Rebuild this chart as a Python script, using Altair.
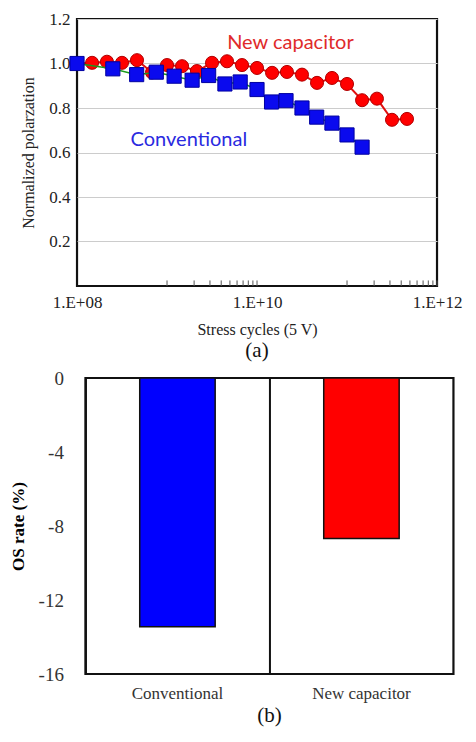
import altair as alt
import pandas as pd

# ---- (a) data ----
new_cycles = [1.0e8, 1.47e8, 2.15e8, 3.16e8, 4.64e8, 6.81e8, 1.0e9, 1.47e9, 2.15e9,
              3.16e9, 4.64e9, 6.81e9, 1.0e10, 1.47e10, 2.15e10, 3.16e10, 4.64e10,
              6.81e10, 1.0e11, 1.47e11, 2.15e11, 3.16e11, 4.64e11]
new_pol = [1.0, 1.003, 1.008, 1.003, 1.015, 0.96, 0.993, 0.988, 0.966, 1.003, 1.01,
           0.993, 0.98, 0.958, 0.962, 0.95, 0.913, 0.935, 0.908, 0.835, 0.842, 0.747, 0.751]
conv_cycles = [1.0e8, 2.5e8, 4.6e8, 7.6e8, 1.2e9, 1.9e9, 2.9e9, 4.4e9, 6.5e9, 1.0e10,
               1.45e10, 2.1e10, 3.16e10, 4.6e10, 6.8e10, 1.0e11, 1.47e11]
conv_pol = [1.0, 0.976, 0.95, 0.961, 0.943, 0.925, 0.946, 0.908, 0.917, 0.883, 0.827,
            0.833, 0.8, 0.759, 0.732, 0.679, 0.624]
x_label_values = [1e8, 1e10, 1e12]
y_label_values = [0.2, 0.4, 0.6, 0.8, 1.0, 1.2]
minor_ticks = [1e9, 2e9, 3e9, 4e9, 5e9, 6e9, 7e9, 8e9, 9e9, 1e10,
               1e11, 2e11, 3e11, 4e11, 5e11, 6e11, 7e11, 8e11, 9e11, 1e12]

# ---- (b) data ----
bar_categories = ["Conventional", "New capacitor"]
bar_values = [-13.45, -8.67]
bar_colors = ["#0000ff", "#ff0000"]
b_y_values = [0, -4, -8, -12, -16]

SERIF = "Liberation Serif"

df_new = pd.DataFrame({"cycles": new_cycles, "pol": new_pol})
df_conv = pd.DataFrame({"cycles": conv_cycles, "pol": conv_pol})
df_minor = pd.DataFrame({"cycles": minor_ticks})

xscale = alt.Scale(type="log", domain=[1e8, 1e12], nice=False)
yscale = alt.Scale(domain=[0, 1.2], nice=False)

xenc = alt.X("cycles:Q", scale=xscale, axis=alt.Axis(
    values=x_label_values, ticks=False, domain=False, grid=False,
    labelExpr="'1.E+' + format(round(log(datum.value)/LN10), '02d')",
    labelFont=SERIF, labelFontSize=17, labelColor="#222", labelPadding=8,
    labelFlush=False,
    title="Stress cycles (5 V)", titleFont=SERIF, titleFontSize=16,
    titleFontWeight="normal", titleColor="#222", titlePadding=11))
yenc = alt.Y("pol:Q", scale=yscale, axis=alt.Axis(
    values=y_label_values, ticks=False, domain=False, grid=True,
    gridColor="#cccccc", gridWidth=1.2, format=".1f",
    labelFont=SERIF, labelFontSize=17, labelColor="#222", labelPadding=7,
    title="Normalized polarzation", titleFont=SERIF, titleFontSize=16,
    titleFontWeight="normal", titleColor="#222", titlePadding=12))

base_grid = alt.Chart(df_new).mark_point(opacity=0).encode(x=xenc, y=yenc)

minor = alt.Chart(df_minor).mark_rule(color="#555", strokeWidth=1).encode(
    x=alt.X("cycles:Q", scale=xscale),
    y=alt.datum(0), y2=alt.datum(0.025))

red_line = alt.Chart(df_new).mark_line(color="#e01010", strokeWidth=2).encode(
    x=alt.X("cycles:Q", scale=xscale), y=alt.Y("pol:Q", scale=yscale))
red_pts = alt.Chart(df_new).mark_circle(size=170, color="#ff0000", opacity=1,
                                        stroke="#b00000", strokeWidth=1).encode(
    x=alt.X("cycles:Q", scale=xscale), y=alt.Y("pol:Q", scale=yscale))
green_line = alt.Chart(df_conv).mark_line(color="#1a9a1a", strokeWidth=1.5).encode(
    x=alt.X("cycles:Q", scale=xscale), y=alt.Y("pol:Q", scale=yscale))
blue_pts = alt.Chart(df_conv).mark_square(size=200, color="#0a0aee", opacity=1,
                                          stroke="#0000a0", strokeWidth=1).encode(
    x=alt.X("cycles:Q", scale=xscale), y=alt.Y("pol:Q", scale=yscale))

lbl_new = alt.Chart(pd.DataFrame({"t": ["New capacitor"]})).mark_text(
    font="Lato", fontSize=20, color="#e02a2a", align="center", baseline="middle").encode(
    x=alt.datum(2.35e10, scale=xscale), y=alt.datum(1.093, scale=yscale), text="t:N")
lbl_conv = alt.Chart(pd.DataFrame({"t": ["Conventional"]})).mark_text(
    font="Lato", fontSize=20, color="#2a2ae0", align="center", baseline="middle").encode(
    x=alt.datum(1.75e9, scale=xscale), y=alt.datum(0.655, scale=yscale), text="t:N")

top = alt.layer(base_grid, minor, red_line, red_pts, green_line, blue_pts,
                lbl_new, lbl_conv).properties(
    width=360, height=267,
    title=alt.TitleParams("(a)", orient="bottom", font=SERIF, fontSize=21,
                          fontWeight="normal", color="#111", offset=3))

# ---- (b) ----
df_bar = pd.DataFrame({"cat": bar_categories, "val": bar_values, "col": bar_colors})
bottom = alt.Chart(df_bar).mark_bar(width=alt.RelativeBandSize(0.41),
                                    stroke="#111", strokeWidth=1.5).encode(
    x=alt.X("cat:N", sort=bar_categories,
            scale=alt.Scale(paddingInner=0, paddingOuter=0),
            axis=alt.Axis(title=None, ticks=False, domain=False, grid=True,
                          bandPosition=0, gridColor="#111", gridWidth=2,
                          labelAngle=0, labelFont=SERIF, labelFontSize=17,
                          labelColor="#333", labelPadding=11)),
    y=alt.Y("val:Q", scale=alt.Scale(domain=[-16, 0], nice=False),
            axis=alt.Axis(values=b_y_values, ticks=False, domain=False, grid=False,
                          labelExpr="datum.value == 0 ? '0' : '-' + abs(datum.value)",
                          labelFont=SERIF, labelFontSize=19, labelColor="#333",
                          labelPadding=22,
                          title="OS rate (%)", titleFont=SERIF, titleFontSize=17,
                          titleFontWeight="bold", titleColor="#000", titlePadding=11)),
    color=alt.Color("col:N", scale=None),
).properties(
    width=368, height=296,
    title=alt.TitleParams("(b)", orient="bottom", font=SERIF, fontSize=21,
                          fontWeight="normal", color="#111", offset=4))

chart = alt.vconcat(top, bottom, spacing=4, center=True).properties(
    padding={"left": 0, "top": 0, "right": 0, "bottom": 0}
).configure_view(stroke="#111", strokeWidth=2.2)

chart.save("out.html", embed_options={"renderer": "svg", "actions": False})
